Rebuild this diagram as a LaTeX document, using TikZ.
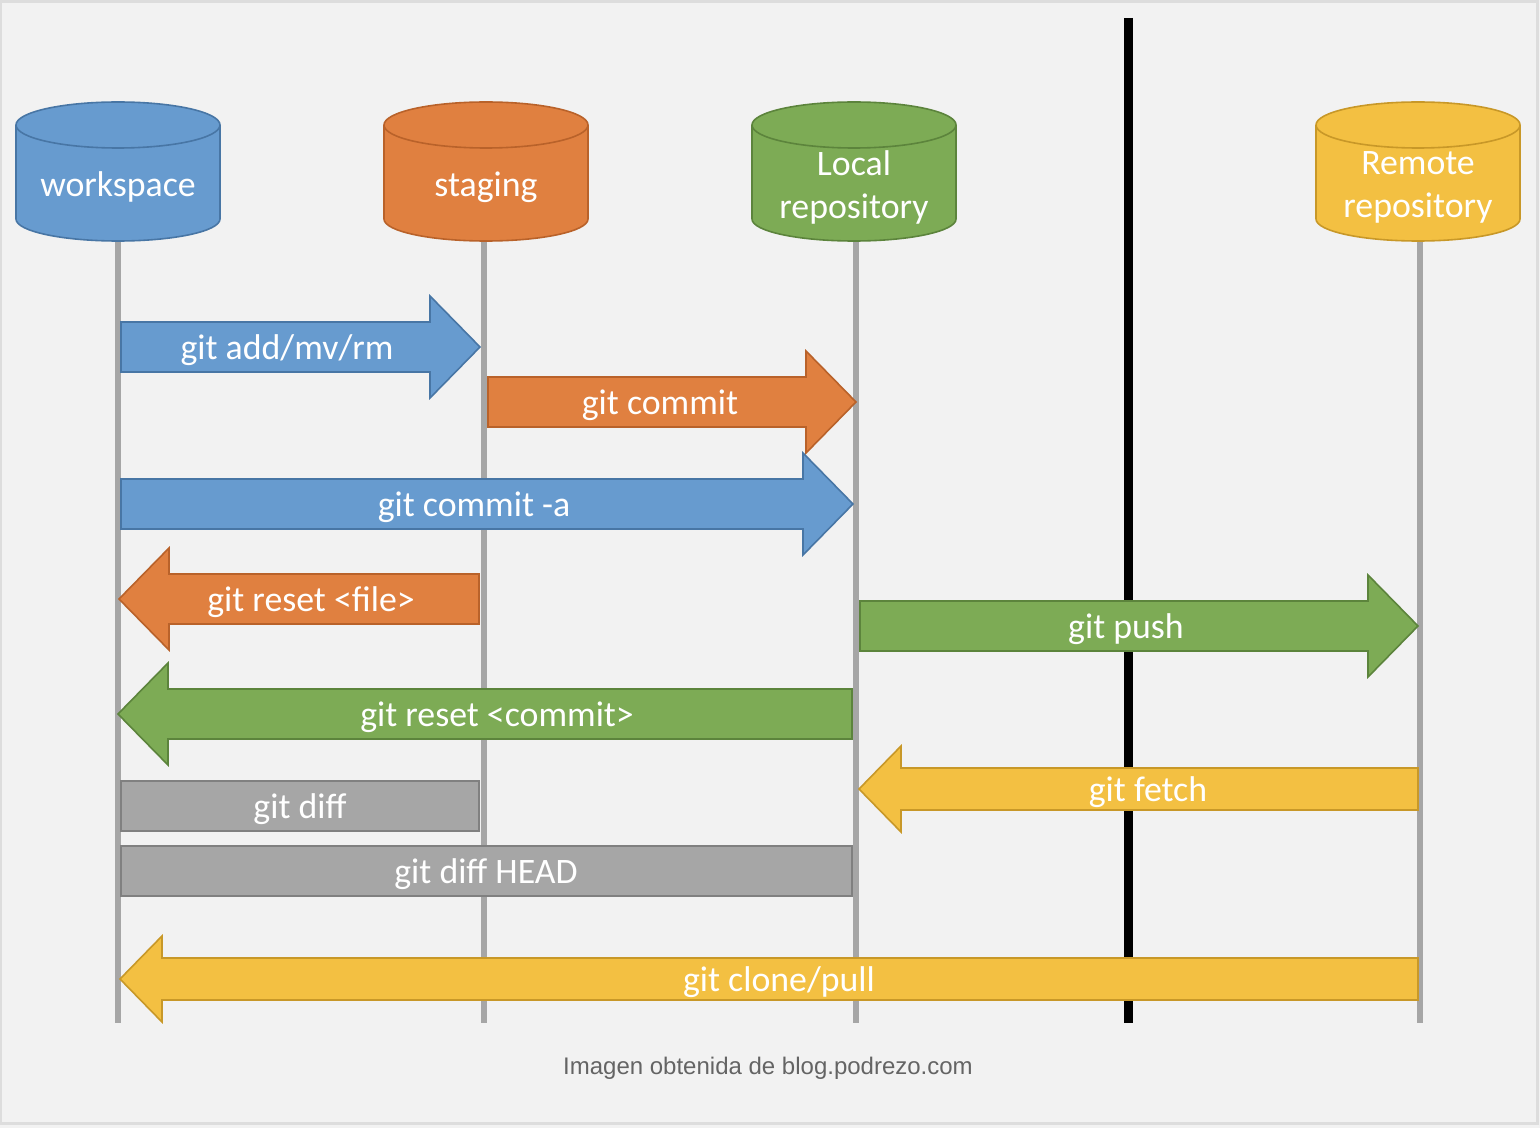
\documentclass[tikz,border=0pt]{standalone}
\usepackage{fontspec}
\newfontfamily\labelfont{Carlito}
\newfontfamily\creditfont{Liberation Sans}
\usetikzlibrary{arrows.meta}

\definecolor{bggray}{RGB}{242,242,242}
\definecolor{framegray}{RGB}{221,221,221}
\definecolor{lifegray}{RGB}{166,166,166}
\definecolor{captiongray}{RGB}{100,100,100}
\definecolor{gitblue}{RGB}{103,155,207}
\definecolor{gitblueline}{RGB}{72,118,165}
\definecolor{gitorange}{RGB}{224,128,64}
\definecolor{gitorangeline}{RGB}{185,98,42}
\definecolor{gitgreen}{RGB}{125,171,85}
\definecolor{gitgreenline}{RGB}{92,132,60}
\definecolor{gityellow}{RGB}{243,192,66}
\definecolor{gityellowline}{RGB}{200,152,40}
\definecolor{gitgray}{RGB}{166,166,166}
\definecolor{gitgrayline}{RGB}{128,128,128}

\tikzset{
    drumbody/.style={fill=#1, draw=#1line, line width=0.8pt},
    cmdbox/.style={fill=#1, draw=#1line, line width=0.8pt},
    drumtext/.style={text=white, align=center, inner sep=0pt,
        font=\labelfont\fontsize{17.9}{21.5}\selectfont},
    cmdtext/.style={text=white, inner sep=0pt, text height=14pt, text depth=3.9pt,
        font=\labelfont\fontsize{17.9}{21.5}\selectfont},
    lifeline/.style={draw=lifegray, line width=3pt},
    border/.style={draw=black, line width=4.5pt}
}

% cylinder: x centre, colour, name, text
\newcommand{\drum}[4]{%
    \filldraw[drumbody=#2] (#1-102,125) -- (#1-102,219)
        arc[start angle=180, end angle=360, x radius=51pt, y radius=11pt]
        -- (#1+102,125)
        arc[start angle=0, end angle=180, x radius=51pt, y radius=11.5pt] -- cycle;
    \draw[drumbody=#2, fill=none] (#1-102,125)
        arc[start angle=180, end angle=360, x radius=51pt, y radius=11.5pt];
    \node[drumtext] (#3) at (#1,187) {#4};}

% block arrow: colour, tail x, tip x, mid y, half shaft
\newcommand{\cmdarrow}[5]{%
    \pgfmathsetmacro{\hx}{(#2>#3) ? #3+2*#5 : #3-2*#5}
    \filldraw[cmdbox=#1] (#2,#4-#5) -- (\hx,#4-#5) -- (\hx,#4-2*#5-1) -- (#3,#4)
        -- (\hx,#4+2*#5+1) -- (\hx,#4+#5) -- (#2,#4+#5) -- cycle;}

\begin{document}
\begin{tikzpicture}[x=0.5pt,y=-0.5pt]
    % background and frame
    \fill[bggray] (0,0) rectangle (1540,1128);
    \useasboundingbox (0,0) rectangle (1540,1128);
    \draw[framegray, line width=1.5pt] (0,1.5) rectangle (1537,1123);

    % local / remote border
    \draw[border] (1128,18) -- (1128,1023);

    % lifelines
    \foreach \x in {118,484,856,1420}
        \draw[lifeline] (\x,235) -- (\x,1023);

    % areas
    \drum{118}{gitblue}{workspace}{workspace}
    \drum{486}{gitorange}{staging}{staging}
    \drum{854}{gitgreen}{local}{Local\\repository}
    \drum{1418}{gityellow}{remote}{Remote\\repository}

    % commands
    \cmdarrow{gitblue}{121}{480}{347}{25}
    \node[cmdtext] (add) at (287,349) {git add/mv/rm};

    \cmdarrow{gitorange}{488}{856}{402}{25}
    \node[cmdtext] (commit) at (660,404) {git commit};

    \cmdarrow{gitblue}{121}{853}{504}{25}
    \node[cmdtext] (commita) at (474,506) {git commit -a};

    \cmdarrow{gitorange}{479}{119}{599}{25}
    \node[cmdtext] (resetfile) at (311,601) {git reset <file>};

    \cmdarrow{gitgreen}{860}{1418}{626}{25}
    \node[cmdtext] (push) at (1126,628) {git push};

    \cmdarrow{gitgreen}{852}{118}{714}{25}
    \node[cmdtext] (resetcommit) at (497,716) {git reset <commit>};

    \cmdarrow{gityellow}{1418}{859}{789}{21}
    \node[cmdtext] (fetch) at (1148,791) {git fetch};

    \filldraw[cmdbox=gitgray] (121,781) rectangle (479,831);
    \node[cmdtext] (diff) at (300,808) {git diff};

    \filldraw[cmdbox=gitgray] (121,846) rectangle (852,896);
    \node[cmdtext] (diffhead) at (486,873) {git diff HEAD};

    \cmdarrow{gityellow}{1418}{120}{979}{21}
    \node[cmdtext] (clone) at (779,981) {git clone/pull};

    % credit
    \node[text=captiongray, font=\creditfont\fontsize{12}{14}\selectfont]
        (credit) at (768,1068) {Imagen obtenida de blog.podrezo.com};
\end{tikzpicture}
\end{document}
